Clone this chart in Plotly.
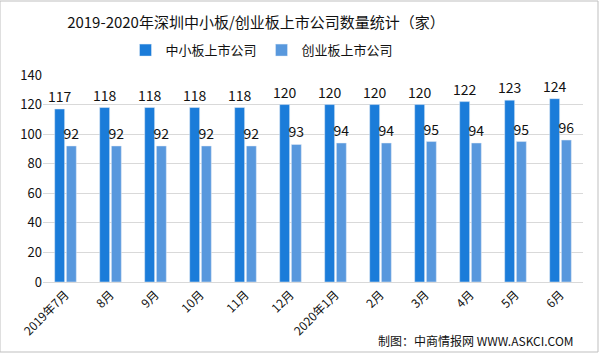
import plotly.graph_objects as go

categories = ["2019年7月", "8月", "9月", "10月", "11月", "12月", "2020年1月", "2月", "3月", "4月", "5月", "6月"]
sme_board = [117, 118, 118, 118, 118, 120, 120, 120, 120, 122, 123, 124]
chinext = [92, 92, 92, 92, 92, 93, 94, 94, 95, 94, 95, 96]
yticks = [0, 20, 40, 60, 80, 100, 120, 140]

FONT = "Noto Sans CJK SC"

fig = go.Figure()
fig.add_trace(go.Bar(x=categories, y=sme_board, name="中小板上市公司", marker_color="#1B7CD9",
                     text=sme_board, textposition="outside", cliponaxis=False, constraintext="none",
                     textfont=dict(size=14, color="#111")))
fig.add_trace(go.Bar(x=categories, y=chinext, name="创业板上市公司", marker_color="#5898DD",
                     text=chinext, textposition="outside", cliponaxis=False, constraintext="none",
                     textfont=dict(size=14, color="#111")))

fig.update_layout(
    width=599, height=353,
    margin=dict(l=43, r=16, t=75, b=71),
    paper_bgcolor="white", plot_bgcolor="white",
    font=dict(family=FONT, size=12, color="#111"),
    title=dict(text="2019-2020年深圳中小板/创业板上市公司数量统计（家）", xref="paper",
               x=(256 - 43) / 540, xanchor="center",
               y=0.935, yanchor="middle", font=dict(size=15, family=FONT, color="#111")),
    legend=dict(orientation="h", x=(262 - 43) / 540, xanchor="center", y=1.12, yanchor="middle",
                font=dict(size=13), itemwidth=30, traceorder="normal"),
    barmode="group", bargap=0.48, bargroupgap=0.15,
    showlegend=True,
    shapes=[dict(type="rect", xref="paper", yref="paper", x0=-43/540, x1=1+15/540,
                 y0=-70/207, y1=1+74/207, line=dict(color="#bfbfbf", width=1))],
    annotations=[dict(text="制图：中商情报网 WWW.ASKCI.COM", xref="paper", yref="paper",
                      x=(576 - 43) / 540, y=-0.285, xanchor="right", yanchor="middle", showarrow=False,
                      font=dict(size=12, color="#111"))],
)
fig.update_traces(textangle=0)
fig.update_xaxes(type="category", tickangle=-45, showline=True, linecolor="#d9d9d9",
                 ticks="", tickfont=dict(size=12))
fig.update_yaxes(range=[0, 140], tickvals=yticks, showgrid=True, gridcolor="#d9d9d9",
                 zeroline=False, ticks="", tickfont=dict(size=13))

fig.write_html("out.html")
